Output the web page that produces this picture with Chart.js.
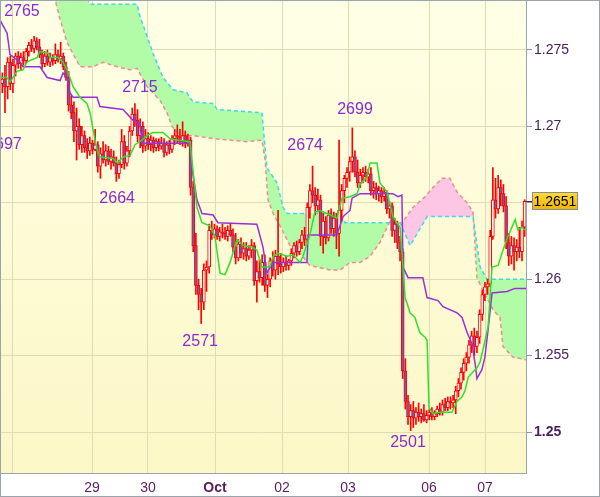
<!DOCTYPE html>
<html><head><meta charset="utf-8">
<script src="https://cdn.jsdelivr.net/npm/chart.js@4.4.1/dist/chart.umd.min.js"></script>
<style>html,body{margin:0;padding:0;background:#fff;}#wrap{width:600px;height:497px;position:relative;}</style>
</head><body><div id="wrap"><canvas id="c" width="600" height="497"></canvas></div>
<script>
// ---- hourly OHLC bars (index = bar number) ----
const openP = [
1.2728,1.2731,1.2726,1.2742,1.2728,1.2740,1.2746,1.2741,1.2745,1.2743,
1.2749,1.2753,1.2751,1.2756,1.2752,1.2747,1.2741,1.2746,1.2742,1.2745,
1.2743,1.2747,1.2744,1.2746,1.2739,1.2732,1.2714,1.2709,1.2697,1.2700,
1.2688,1.2694,1.2686,1.2684,1.2689,1.2685,1.2688,1.2674,1.2682,1.2678,
1.2684,1.2677,1.2680,1.2676,1.2669,1.2675,1.2690,1.2676,1.2684,1.2697,
1.2708,1.2704,1.2694,1.2700,1.2687,1.2692,1.2688,1.2691,1.2686,1.2690,
1.2687,1.2689,1.2683,1.2688,1.2685,1.2692,1.2694,1.2693,1.2690,1.2694,
1.2689,1.2691,1.2660,1.2622,1.2596,1.2590,1.2585,1.2606,1.2608,1.2632,
1.2629,1.2633,1.2628,1.2631,1.2630,1.2628,1.2632,1.2629,1.2621,1.2614,
1.2623,1.2617,1.2620,1.2615,1.2619,1.2622,1.2599,1.2605,1.2601,1.2611,
1.2596,1.2600,1.2612,1.2606,1.2615,1.2610,1.2608,1.2611,1.2609,1.2612,
1.2617,1.2622,1.2618,1.2624,1.2629,1.2626,1.2647,1.2658,1.2655,1.2648,
1.2652,1.2628,1.2638,1.2627,1.2642,1.2633,1.2640,1.2630,1.2645,1.2658,
1.2666,1.2670,1.2677,1.2680,1.2670,1.2663,1.2668,1.2670,1.2667,1.2669,
1.2658,1.2660,1.2656,1.2658,1.2654,1.2657,1.2646,1.2648,1.2632,1.2636,
1.2624,1.2618,1.2540,1.2520,1.2510,1.2514,1.2509,1.2513,1.2510,1.2512,
1.2508,1.2511,1.2513,1.2510,1.2512,1.2515,1.2513,1.2518,1.2516,1.2520,
1.2519,1.2521,1.2527,1.2532,1.2539,1.2545,1.2549,1.2557,1.2563,1.2556,
1.2562,1.2577,1.2590,1.2595,1.2597,1.2628,1.2652,1.2646,1.2660,1.2656,
1.2648,1.2624,1.2615,1.2622,1.2618,1.2621,1.2618,1.2634];
const highP = [
1.2735,1.2740,1.2745,1.2746,1.2744,1.2748,1.2749,1.2748,1.2749,1.2751,
1.2755,1.2757,1.2759,1.2758,1.2757,1.2750,1.2749,1.2750,1.2748,1.2747,
1.2754,1.2750,1.2755,1.2748,1.2742,1.2736,1.2720,1.2716,1.2712,1.2705,
1.2700,1.2697,1.2692,1.2693,1.2691,1.2698,1.2690,1.2686,1.2690,1.2688,
1.2687,1.2685,1.2684,1.2680,1.2678,1.2698,1.2694,1.2687,1.2700,1.2712,
1.2715,1.2711,1.2705,1.2703,1.2698,1.2696,1.2694,1.2693,1.2692,1.2692,
1.2693,1.2692,1.2690,1.2691,1.2694,1.2698,1.2701,1.2698,1.2703,1.2697,
1.2695,1.2693,1.2664,1.2630,1.2600,1.2594,1.2610,1.2612,1.2636,1.2638,
1.2636,1.2635,1.2634,1.2636,1.2634,1.2635,1.2636,1.2633,1.2630,1.2626,
1.2627,1.2624,1.2624,1.2622,1.2626,1.2624,1.2612,1.2613,1.2616,1.2616,
1.2603,1.2614,1.2618,1.2619,1.2645,1.2617,1.2614,1.2615,1.2613,1.2620,
1.2624,1.2625,1.2626,1.2632,1.2634,1.2650,1.2662,1.2674,1.2660,1.2659,
1.2655,1.2643,1.2641,1.2645,1.2646,1.2644,1.2643,1.2691,1.2662,1.2668,
1.2673,1.2680,1.2699,1.2684,1.2678,1.2672,1.2673,1.2674,1.2672,1.2673,
1.2664,1.2663,1.2661,1.2660,1.2660,1.2658,1.2651,1.2650,1.2640,1.2638,
1.2628,1.2620,1.2548,1.2524,1.2518,1.2520,1.2516,1.2519,1.2515,1.2518,
1.2514,1.2515,1.2516,1.2514,1.2517,1.2519,1.2521,1.2522,1.2523,1.2523,
1.2524,1.2530,1.2535,1.2542,1.2548,1.2552,1.2560,1.2566,1.2568,1.2566,
1.2580,1.2593,1.2598,1.2600,1.2632,1.2673,1.2666,1.2668,1.2665,1.2662,
1.2654,1.2630,1.2628,1.2627,1.2626,1.2634,1.2638,1.2652];
const lowP = [
1.2722,1.2709,1.2718,1.2724,1.2722,1.2733,1.2738,1.2737,1.2740,1.2741,
1.2746,1.2749,1.2748,1.2750,1.2745,1.2738,1.2739,1.2740,1.2739,1.2740,
1.2741,1.2742,1.2741,1.2737,1.2730,1.2710,1.2705,1.2690,1.2678,1.2685,
1.2683,1.2683,1.2679,1.2681,1.2682,1.2684,1.2670,1.2666,1.2676,1.2674,
1.2675,1.2672,1.2674,1.2664,1.2666,1.2673,1.2672,1.2674,1.2680,1.2694,
1.2700,1.2690,1.2686,1.2683,1.2684,1.2685,1.2684,1.2683,1.2684,1.2684,
1.2685,1.2680,1.2681,1.2682,1.2683,1.2688,1.2689,1.2688,1.2687,1.2686,
1.2687,1.2655,1.2618,1.2590,1.2580,1.2571,1.2580,1.2592,1.2604,1.2626,
1.2627,1.2626,1.2625,1.2627,1.2626,1.2625,1.2628,1.2618,1.2610,1.2612,
1.2614,1.2613,1.2612,1.2613,1.2614,1.2596,1.2585,1.2598,1.2596,1.2592,
1.2588,1.2595,1.2602,1.2600,1.2603,1.2604,1.2605,1.2606,1.2606,1.2609,
1.2614,1.2615,1.2616,1.2620,1.2622,1.2624,1.2640,1.2650,1.2642,1.2644,
1.2622,1.2617,1.2623,1.2625,1.2630,1.2628,1.2620,1.2615,1.2638,1.2650,
1.2660,1.2664,1.2670,1.2667,1.2660,1.2660,1.2663,1.2664,1.2663,1.2655,
1.2653,1.2652,1.2651,1.2650,1.2651,1.2643,1.2640,1.2628,1.2624,1.2620,
1.2612,1.2535,1.2515,1.2505,1.2501,1.2503,1.2505,1.2507,1.2506,1.2507,
1.2506,1.2508,1.2508,1.2508,1.2510,1.2511,1.2511,1.2514,1.2514,1.2515,
1.2516,1.2512,1.2523,1.2528,1.2534,1.2540,1.2545,1.2552,1.2550,1.2552,
1.2558,1.2573,1.2586,1.2590,1.2595,1.2626,1.2640,1.2643,1.2648,1.2644,
1.2620,1.2609,1.2610,1.2606,1.2612,1.2614,1.2612,1.2628];
const closeP = [
1.2731,1.2726,1.2742,1.2728,1.2740,1.2746,1.2741,1.2745,1.2743,1.2749,
1.2753,1.2751,1.2756,1.2752,1.2747,1.2741,1.2746,1.2742,1.2745,1.2743,
1.2747,1.2744,1.2746,1.2739,1.2732,1.2714,1.2709,1.2697,1.2700,1.2688,
1.2694,1.2686,1.2684,1.2689,1.2685,1.2688,1.2674,1.2682,1.2678,1.2684,
1.2677,1.2680,1.2676,1.2669,1.2675,1.2690,1.2676,1.2684,1.2697,1.2708,
1.2704,1.2694,1.2700,1.2687,1.2692,1.2688,1.2691,1.2686,1.2690,1.2687,
1.2689,1.2683,1.2688,1.2685,1.2692,1.2694,1.2693,1.2690,1.2694,1.2689,
1.2691,1.2660,1.2622,1.2596,1.2590,1.2585,1.2606,1.2608,1.2632,1.2629,
1.2633,1.2628,1.2631,1.2630,1.2628,1.2632,1.2629,1.2621,1.2614,1.2623,
1.2617,1.2620,1.2615,1.2619,1.2622,1.2599,1.2605,1.2601,1.2611,1.2596,
1.2600,1.2612,1.2606,1.2615,1.2610,1.2608,1.2611,1.2609,1.2612,1.2617,
1.2622,1.2618,1.2624,1.2629,1.2626,1.2647,1.2658,1.2655,1.2648,1.2652,
1.2628,1.2638,1.2627,1.2642,1.2633,1.2640,1.2630,1.2645,1.2658,1.2666,
1.2670,1.2677,1.2680,1.2670,1.2663,1.2668,1.2670,1.2667,1.2669,1.2658,
1.2660,1.2656,1.2658,1.2654,1.2657,1.2646,1.2648,1.2632,1.2636,1.2624,
1.2618,1.2540,1.2520,1.2510,1.2514,1.2509,1.2513,1.2510,1.2512,1.2508,
1.2511,1.2513,1.2510,1.2512,1.2515,1.2513,1.2518,1.2516,1.2520,1.2519,
1.2521,1.2527,1.2532,1.2539,1.2545,1.2549,1.2557,1.2563,1.2556,1.2562,
1.2577,1.2590,1.2595,1.2597,1.2628,1.2652,1.2646,1.2660,1.2656,1.2648,
1.2624,1.2615,1.2622,1.2618,1.2621,1.2618,1.2634,1.2651];

// ---- Tenkan-sen (green) ----
const tenkanX = [-1,1.8,2.9,5.5,7.8,9.3,10.4,13.1,14.2,17.2,18.0,21.0,22.9,24.4,26.7,29.3,31.9,33.1,34.2,35.7,36.8,41.7,43.6,45.5,48.2,50.0,51.9,54.6,56.8,60.6,63.2,66.3,70.8,72.7,73.4,75.3,78.3,80.2,82.1,84.0,85.9,88.5,90.8,94.2,96.0,97.9,100.9,102.1,104.0,107.4,109.6,112.3,113.4,116.0,117.9,119.8,122.5,126.2,128.1,131.1,133.8,134.9,137.5,138.7,141.3,142.4,145.1,147.3,148.8,150.0,151.1,151.9,153.8,155.6,157.5,159.4,160.2,160.9,162.4,165.1,169.6,171.5,173.4,174.5,175.7,179.0,180.2,181.3,183.2,184.7,187.0,188.8,190.7,193.4,194.5,196.0,197.1];
const tenkanY = [1.2732,1.2732,1.2729,1.2736,1.2737,1.2742,1.2743,1.2745,1.2749,1.2748,1.2745,1.2745,1.2742,1.2737,1.2726,1.2719,1.2715,1.2709,1.2698,1.2685,1.2680,1.2679,1.2676,1.2680,1.2681,1.2688,1.2690,1.2694,1.2696,1.2696,1.2692,1.2691,1.2690,1.2658,1.2647,1.2637,1.2635,1.2628,1.2604,1.2603,1.2611,1.2626,1.2622,1.2621,1.2619,1.2608,1.2608,1.2615,1.2617,1.2615,1.2616,1.2611,1.2615,1.2629,1.2644,1.2645,1.2643,1.2640,1.2653,1.2654,1.2656,1.2662,1.2667,1.2676,1.2676,1.2663,1.2657,1.2641,1.2637,1.2634,1.2608,1.2588,1.2578,1.2575,1.2565,1.2562,1.2560,1.2516,1.2512,1.2513,1.2513,1.2520,1.2523,1.2527,1.2536,1.2542,1.2546,1.2554,1.2569,1.2608,1.2609,1.2619,1.2628,1.2639,1.2632,1.2634,1.2632];

// ---- Kijun-sen (purple) ----
const kijunX = [-1,1.8,2.9,6.7,7.8,14.2,16.9,21.8,22.9,24.4,25.5,26.7,35.7,36.8,45.5,49.3,51.9,52.7,70.8,71.5,73.4,75.3,79.5,81.3,96.0,98.3,99.8,102.1,114.9,115.3,126.2,128.5,131.1,131.9,134.9,147.3,149.2,150.7,151.1,153.0,158.6,160.2,164.3,166.2,171.5,173.4,175.3,177.1,178.3,179.0,180.9,182.0,183.2,184.7,190.3,193.4,198.5];
const kijunY = [1.2770,1.2761,1.2747,1.2742,1.2739,1.2739,1.2732,1.2730,1.2735,1.2732,1.2722,1.2719,1.2719,1.2713,1.2711,1.2704,1.2702,1.2689,1.2689,1.2673,1.2652,1.2643,1.2642,1.2637,1.2636,1.2621,1.2604,1.2611,1.2611,1.2629,1.2629,1.2641,1.2645,1.2653,1.2656,1.2656,1.2654,1.2655,1.2608,1.2601,1.2601,1.2588,1.2586,1.2582,1.2578,1.2575,1.2565,1.2558,1.2545,1.2535,1.2541,1.2549,1.2567,1.2591,1.2592,1.2594,1.2594];

// ---- Senkou span A (cyan dashed) and B (pink dashed) ----
const spanAX = [-1,18.0,32.0,33.1,50.8,51.9,54.6,56.8,60.6,64.4,69.6,71.9,79.5,81.0,97.9,99.8,103.6,105.9,107.4,127.4,129.2,150.0,153.8,160.2,177.5,180.2,182.8,198.5];
const spanAY = [1.2800,1.2792,1.2784,1.2780,1.2780,1.2772,1.2759,1.2748,1.2732,1.2724,1.2722,1.2716,1.2715,1.2711,1.2709,1.2673,1.2663,1.2647,1.2643,1.2643,1.2637,1.2637,1.2622,1.2641,1.2641,1.2608,1.2600,1.2600];
const spanBX = [-1,18.0,19.9,21.8,24.4,29.3,34.2,38.0,43.3,48.2,50.8,54.6,59.5,62.1,64.0,67.0,71.9,79.5,92.3,97.9,99.1,100.2,102.1,104.7,108.5,112.3,116.0,123.6,127.4,131.1,134.9,138.7,142.4,146.2,148.5,150.8,154.9,159.4,162.4,165.8,168.8,171.5,175.3,177.5,179.0,182.0,185.1,187.7,188.8,192.6,198.5];
const spanBY = [1.2805,1.2790,1.2783,1.2770,1.2755,1.2739,1.2739,1.2742,1.2739,1.2737,1.2738,1.2726,1.2717,1.2709,1.2700,1.2694,1.2694,1.2692,1.2690,1.2691,1.2678,1.2652,1.2643,1.2635,1.2622,1.2617,1.2609,1.2606,1.2606,1.2611,1.2611,1.2615,1.2624,1.2638,1.2636,1.2637,1.2647,1.2654,1.2660,1.2666,1.2666,1.2657,1.2650,1.2644,1.2601,1.2590,1.2580,1.2575,1.2556,1.2549,1.2547];

// ---- axis ticks ----
const dayTickPos = [3.65,33.82,54.94,80.21,105.48,130.37,160.92,182.04];
const dayLabels  = ['','29','30','Oct','02','03','06','07'];
const yTickVals  = [1.25,1.255,1.26,1.265,1.27,1.275];
const yTickLabels= ['1.25','1.255','1.26','','1.27','1.275'];

// ---- high / low markers ----
const annText = ['2765','2715','2699','2674','2664','2571','2501','2697'];
const annX    = [7.4,51.9,133.0,114.2,43.3,74.6,153.0,0.6];
const annY    = [1.27749,1.27251,1.27107,1.26872,1.26525,1.25589,1.24928,1.26878];

const lastPrice = closeP[closeP.length-1];
const FONT = '"Liberation Sans", Arial, sans-serif';

const pts = (xs, ys) => xs.map((x,i)=>({x, y: ys[i]}));

const bgPlugin = {
  id:'bg',
  beforeDraw(chart){
    const {ctx, chartArea:a} = chart;
    ctx.save();
    ctx.fillStyle = '#ffffff';
    ctx.fillRect(0,0,chart.width,chart.height);
    const g = ctx.createLinearGradient(0,a.top,0,a.bottom);
    g.addColorStop(0,'#ffffe6');
    g.addColorStop(1,'#fcf7c6');
    ctx.fillStyle = g;
    ctx.fillRect(a.left,a.top,a.right-a.left,a.bottom-a.top);
    ctx.restore();
  }
};
const annPlugin = {
  id:'ann',
  afterDatasetsDraw(chart){
    const {ctx, chartArea:a, scales:{x,y}} = chart;
    ctx.save();
    ctx.beginPath(); ctx.rect(a.left,a.top,a.right-a.left,a.bottom-a.top); ctx.clip();
    ctx.font = '16px ' + FONT;
    ctx.fillStyle = '#8a2bd0';
    ctx.textAlign = 'center'; ctx.textBaseline = 'middle';
    annText.forEach((t,i)=>ctx.fillText(t, x.getPixelForValue(annX[i]), y.getPixelForValue(annY[i])));
    ctx.restore();
  },
  afterDraw(chart){
    const {ctx, chartArea:a, scales:{y}} = chart;
    const py = Math.round(y.getPixelForValue(lastPrice));
    ctx.save();
    ctx.strokeStyle = '#4a1a60'; ctx.lineWidth = 1;
    ctx.beginPath(); ctx.moveTo(a.right, py+0.5); ctx.lineTo(a.right+6, py+0.5); ctx.stroke();
    const bx = a.right+6, bw = 46, bh = 18, by = py-9;
    const g = ctx.createLinearGradient(0,by,0,by+bh);
    g.addColorStop(0,'#ffdc40'); g.addColorStop(1,'#f2b400');
    ctx.fillStyle = g; ctx.fillRect(bx,by,bw,bh);
    ctx.strokeStyle = '#8c8c8c'; ctx.strokeRect(bx+0.5,by+0.5,bw-1,bh-1);
    ctx.fillStyle = '#000'; ctx.font = '14px ' + FONT;
    ctx.textAlign = 'center'; ctx.textBaseline = 'middle';
    ctx.fillText(lastPrice.toFixed(4), bx+bw/2, by+bh/2+1);
    ctx.strokeStyle = '#9aa4ac';
    ctx.strokeRect(0.5,0.5,chart.width-1,chart.height-1);
    ctx.restore();
  }
};

new Chart(document.getElementById('c'), {
  type:'bar',
  data:{ datasets:[
    { type:'line', label:'Tenkan', data: pts(tenkanX,tenkanY), borderColor:'#2ee02e', borderWidth:1.5, pointRadius:0, tension:0, fill:false },
    { type:'line', label:'Kijun', data: pts(kijunX,kijunY), borderColor:'#9a2fd6', borderWidth:1.5, pointRadius:0, tension:0, fill:false },
    { type:'bar', label:'Body', data: openP.map((o,i)=>({x:i, y:[o, closeP[i]]})),
      backgroundColor: openP.map((o,i)=> closeP[i] < o ? '#7a5aa8' : '#fffef0'),
      borderColor:'#ff0000', borderWidth:1, borderSkipped:false, barThickness:3, grouped:false },
    { type:'bar', label:'Wick', data: lowP.map((l,i)=>({x:i, y:[l, highP[i]]})),
      backgroundColor:'#ff0000', borderWidth:0, barThickness:1, grouped:false },
    { type:'line', label:'SpanA', data: pts(spanAX,spanAY), borderColor:'#3cd8ee', borderDash:[4,3], borderWidth:1.5, pointRadius:0, tension:0,
      fill:{ target:5, above:'#b2fca8', below:'#fdc6e4' } },
    { type:'line', label:'SpanB', data: pts(spanBX,spanBY), borderColor:'#f08c8c', borderDash:[4,3], borderWidth:1.5, pointRadius:0, tension:0, fill:false }
  ]},
  options:{
    responsive:false, devicePixelRatio:1, animation:false, events:[],
    layout:{ padding:{ left:1, right:2, top:0, bottom:1 } },
    plugins:{ legend:{display:false}, tooltip:{enabled:false}, filler:{ drawTime:'beforeDatasetsDraw' } },
    scales:{
      x:{ type:'linear', min:-0.5, max:197.5, offset:false,
        afterBuildTicks: s => { s.ticks = dayTickPos.map(v=>({value:v})); },
        afterFit: s => { s.height = 23; s.paddingLeft = 0; s.paddingRight = 0; },
        grid:{ color:'#dedcb4', drawTicks:false, offset:false },
        border:{ color:'#9aa4ac' },
        ticks:{ autoSkip:false, maxRotation:0, padding:7, color:'#5a1e5a',
          font: c => ({ family:FONT, size:14, weight: (dayLabels[c.index]==='Oct') ? 'bold' : 'normal' }),
          callback:(v,i)=>dayLabels[i] } },
      y:{ type:'linear', position:'right', min:1.24732, max:1.27827,
        afterBuildTicks: s => { s.ticks = yTickVals.map(v=>({value:v})); },
        afterFit: s => { s.width = 72; s.paddingTop = 0; s.paddingBottom = 0; },
        grid:{ color:'#dedcb4', tickColor:'#8c98a0', tickLength:6 },
        border:{ color:'#9aa4ac' },
        ticks:{ padding:2, color:'#4a2060',
          font: c => ({ family:FONT, size:14, weight: c.index===0 ? 'bold' : 'normal' }),
          callback:(v,i)=>yTickLabels[i] } }
    }
  },
  plugins:[bgPlugin, annPlugin]
});
</script></body></html>
